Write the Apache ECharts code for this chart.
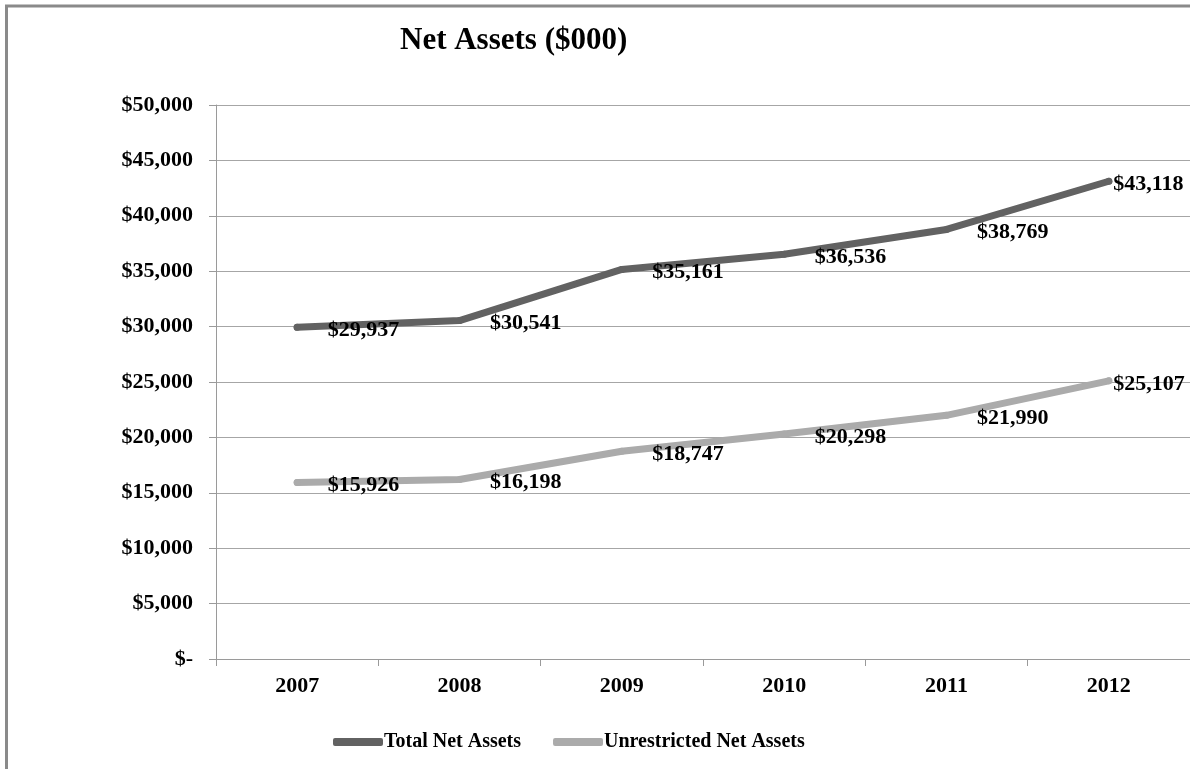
<!DOCTYPE html>
<html><head><meta charset="utf-8">
<script src="https://cdn.jsdelivr.net/npm/echarts@6/dist/echarts.min.js"></script>
<style>html,body{margin:0;padding:0;background:#fff}#c{width:1190px;height:769px}</style>
</head><body><div id="c"></div>
<script>
const categories = ['2007','2008','2009','2010','2011','2012'];
const totalNetAssets = [29937, 30541, 35161, 36536, 38769, 43118];
const unrestrictedNetAssets = [15926, 16198, 18747, 20298, 21990, 25107];
const yTicks = [0, 5000, 10000, 15000, 20000, 25000, 30000, 35000, 40000, 45000, 50000];

const FONT = '"Liberation Serif", "Times New Roman", serif';
function money(v){ return v === 0 ? '$-' : '$' + v.toLocaleString('en-US'); }
function dataWithLabels(arr){
  return arr.map((v,i)=> i === arr.length-1 ? {value:v, label:{distance:1}} : v);
}
const chart = echarts.init(document.getElementById('c'), null, {renderer:'canvas'});
const labelCfg = {show:true, position:'right', distance:27, offset:[0,3],
  formatter:p=>money(p.value), color:'#000', fontFamily:FONT, fontWeight:'bold', fontSize:22};
chart.setOption({
  animation:false,
  backgroundColor:'#fff',
  graphic:[{type:'rect', shape:{x:6.5, y:6, width:1200, height:800},
    style:{fill:'none', stroke:'#8a8a8a', lineWidth:3}, silent:true, z:-1}],
  title:{text:'Net Assets ($000)', left:395, top:20,
    textStyle:{fontFamily:FONT, fontWeight:'bold', fontSize:31, color:'#000'}},
  grid:{left:216, top:105, width:976, bottom:110, containLabel:false},
  legend:{left:328, top:727, itemWidth:50, itemHeight:8, itemGap:32, icon:'roundRect',
    textStyle:{fontFamily:FONT, fontWeight:'bold', fontSize:20, color:'#000', padding:[0,0,0,-4]},
    data:['Total Net Assets','Unrestricted Net Assets']},
  xAxis:{type:'category', data:categories, boundaryGap:true,
    axisLine:{lineStyle:{color:'#9a9a9a', width:1}},
    axisTick:{show:true, length:7, lineStyle:{color:'#9a9a9a'}},
    axisLabel:{margin:16, color:'#000', fontFamily:FONT, fontWeight:'bold', fontSize:22}},
  yAxis:{type:'value', min:yTicks[0], max:yTicks[yTicks.length-1], interval:5000,
    axisLine:{show:true, lineStyle:{color:'#9a9a9a', width:1}},
    axisTick:{show:true, length:7, lineStyle:{color:'#9a9a9a'}},
    splitLine:{lineStyle:{color:'#a6a6a6', width:1}},
    axisLabel:{margin:23, color:'#000', fontFamily:FONT, fontWeight:'bold', fontSize:22, formatter:money}},
  series:[
    {name:'Total Net Assets', type:'line', data:dataWithLabels(totalNetAssets),
     symbol:'circle', symbolSize:7, itemStyle:{color:'#626262'},
     lineStyle:{color:'#626262', width:7, cap:'round', join:'round'}, label:labelCfg},
    {name:'Unrestricted Net Assets', type:'line', data:dataWithLabels(unrestrictedNetAssets),
     symbol:'circle', symbolSize:7, itemStyle:{color:'#ababab'},
     lineStyle:{color:'#ababab', width:7, cap:'round', join:'round'}, label:labelCfg}
  ]
});
</script></body></html>
